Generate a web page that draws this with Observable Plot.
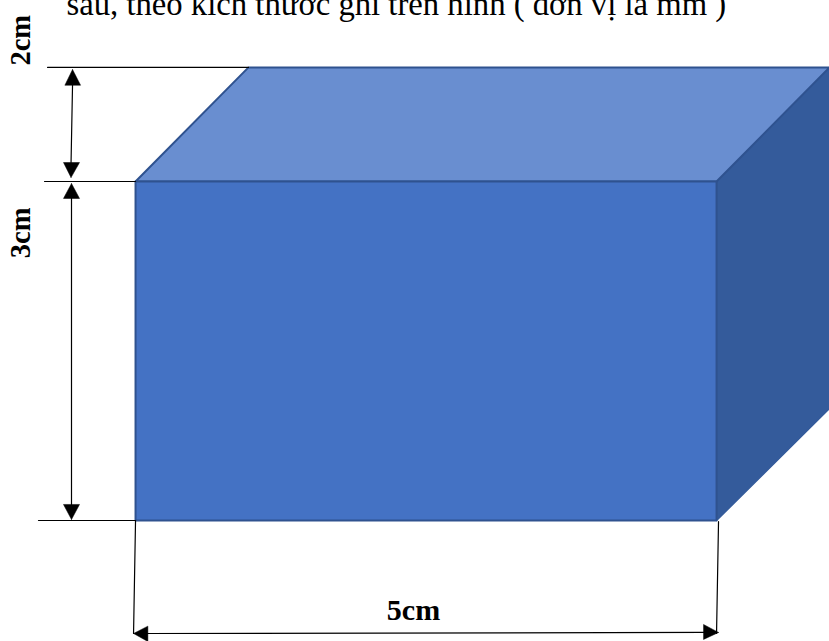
<!DOCTYPE html>
<html>
<head>
<meta charset="utf-8">
<script src="https://cdn.jsdelivr.net/npm/d3@7"></script>
<script src="https://cdn.jsdelivr.net/npm/@observablehq/plot@0.6"></script>
<style>
html,body{margin:0;padding:0;background:#fff;overflow:hidden}
svg{display:block}
</style>
</head>
<body>
<div id="chart"></div>
<script>
// All values are in the box's own units (cm), origin at the front-bottom-left corner.
const boxWidth = 5, boxHeight = 3, depthX = 0.972, depthY = 1.01;
const rightCut = 5.972;

const frontFace = [[0,0],[0,boxHeight],[boxWidth,boxHeight],[boxWidth,0],[0,0]];
const topFace = [[0,boxHeight],[depthX,boxHeight+depthY],[rightCut,boxHeight+depthY],[boxWidth,boxHeight],[0,boxHeight]];
const rightFace = [[boxWidth,0],[boxWidth,boxHeight],[rightCut,boxHeight+depthY],[rightCut,0.991],[boxWidth,0]];

const dimensionLines = [
  [[-0.757,4.01],[0.972,4.01]],
  [[-0.783,3],[0,3]],
  [[-0.835,0],[0,0]],
  [[0,0],[-0.017,-1]],
  [[5.017,-0.01],[5,-1]],
  [[-0.542,3.86],[-0.555,3.16]],
  [[-0.551,2.86],[-0.551,0.14]],
  [[0.1,-1],[4.9,-0.991]]
];

const arrowHeads = [
  [[-0.542,3.991],[-0.608,3.852],[-0.473,3.852]],
  [[-0.555,3.035],[-0.620,3.168],[-0.482,3.168]],
  [[-0.551,2.982],[-0.620,2.850],[-0.482,2.850]],
  [[-0.551,0.009],[-0.620,0.142],[-0.482,0.142]],
  [[-0.017,-1],[0.106,-0.935],[0.106,-1.071]],
  [[5.017,-0.991],[4.888,-0.920],[4.888,-1.053]]
];

const sideLabels = [
  {text:"2cm", x:-0.99, y:4.25},
  {text:"3cm", x:-0.99, y:2.545}
];
const widthLabel = [{text:"5cm", x:2.392, y:-0.795}];
const heading = [{text:"sau, theo kích thước ghi trên hình ( đơn vị là mm )", x:-0.594, y:4.478}];

const px = d => d[0], py = d => d[1];
const serif = "'Liberation Serif', serif";

const plot = Plot.plot({
  width: 829, height: 641,
  marginTop: 0, marginRight: 0, marginBottom: 0, marginLeft: 0,
  style: {background: "#fff"},
  x: {domain: [-1.162, 5.972], range: [0, 829], axis: null},
  y: {domain: [4.602, -1.071], range: [0, 641], axis: null},
  marks: [
    Plot.line(rightFace, {x: px, y: py, fill: "#345b9b", stroke: "#345b9b", strokeWidth: 1.5}),
    Plot.line(topFace, {x: px, y: py, fill: "#698ed0", stroke: "#2f528f", strokeWidth: 2}),
    Plot.line(frontFace, {x: px, y: py, fill: "#4472c4", stroke: "#2f528f", strokeWidth: 2}),
    ...dimensionLines.map(l => Plot.line(l, {x: px, y: py, stroke: "#000", strokeWidth: 1.2})),
    ...arrowHeads.map(a => Plot.line([...a, a[0]], {x: px, y: py, fill: "#000", stroke: "#000", strokeWidth: 0.5})),
    Plot.text(sideLabels, {x: "x", y: "y", text: "text", rotate: -90, fontFamily: serif, fontWeight: "bold", fontSize: 28.5, fill: "#000"}),
    Plot.text(widthLabel, {x: "x", y: "y", text: "text", fontFamily: serif, fontWeight: "bold", fontSize: 30, fill: "#000"}),
    Plot.text(heading, {x: "x", y: "y", text: "text", textAnchor: "start", lineAnchor: "bottom", fontFamily: serif, fontSize: 32.7, fill: "#000"})
  ]
});
document.getElementById("chart").appendChild(plot);
</script>
</body>
</html>
